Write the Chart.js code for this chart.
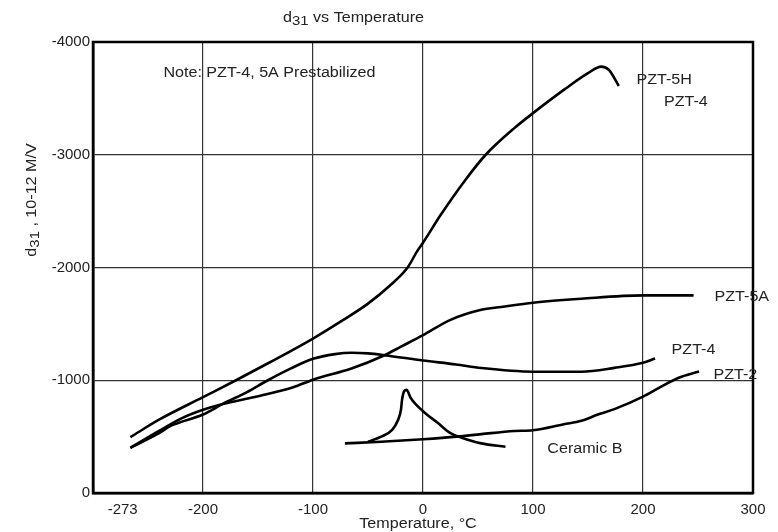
<!DOCTYPE html>
<html>
<head>
<meta charset="utf-8">
<script src="https://cdn.jsdelivr.net/npm/chart.js@4.4.1/dist/chart.umd.min.js"></script>
<style>
    html, body { margin: 0; padding: 0; background: #fff; }
</style>
</head>
<body>
<canvas id="chart" width="778" height="532"></canvas>
<script>
// tick labels
const xTicks = [-273, -200, -100, 0, 100, 200, 300];
const yTicks = [-4000, -3000, -2000, -1000, 0];

// d31 (10^-12 m/V) vs temperature (°C)
const pzt5hTemp = [-266, -240, -200, -170, -140, -100, -75, -50, -30, -14, -5, 0, 16, 38, 57, 83, 100, 128, 150, 162, 169, 178];
const pzt5hD31  = [-495, -650, -850, -1000, -1155, -1370, -1520, -1680, -1840, -2000, -2150, -2220, -2465, -2770, -3000, -3236, -3369, -3575, -3723, -3782, -3752, -3610];

const pzt5aTemp = [-266, -240, -220, -200, -182, -153, -118, -100, -65, -35, -20, 0, 25, 53, 71, 100, 144, 200, 246];
const pzt5aD31  = [-400, -550, -660, -738, -790, -852, -938, -1005, -1104, -1222, -1298, -1400, -1536, -1625, -1650, -1688, -1723, -1753, -1753];

const pzt4Temp = [-266, -240, -229, -200, -182, -160, -141, -120, -100, -80, -65, -50, -35, 0, 30, 53, 100, 144, 174, 200, 211];
const pzt4D31  = [-400, -530, -597, -696, -790, -895, -1000, -1105, -1190, -1232, -1244, -1238, -1222, -1175, -1140, -1108, -1076, -1076, -1110, -1155, -1192];

const pzt2Temp = [-71, -38, 0, 31, 53, 83, 100, 128, 144, 159, 174, 200, 215, 232, 251];
const pzt2D31  = [-440, -455, -477, -500, -522, -550, -557, -610, -640, -696, -744, -855, -935, -1020, -1077];

const ceramicBTemp = [-50, -38, -28, -23, -20, -19, -17, -15, -11, 0, 13, 25, 40, 53, 75];
const ceramicBD31  = [-455, -500, -560, -640, -740, -830, -905, -915, -840, -725, -625, -530, -475, -440, -410];

// curve labels, anchored in data units (left edge, vertical middle)
const curveLabels = [
    { text: 'Note: PZT-4, 5A Prestabilized', x: -236, y: -3726 },
    { text: 'PZT-5H', x: 194, y: -3664 },
    { text: 'PZT-4', x: 219, y: -3469 },
    { text: 'PZT-5A', x: 265, y: -1741 },
    { text: 'PZT-4', x: 226, y: -1268 },
    { text: 'PZT-2', x: 264, y: -1045 },
    { text: 'Ceramic B', x: 113, y: -386 }
];

const FONT = '"Liberation Sans", Arial, sans-serif';
const textColor = '#222';
const stretch = 1.15; // the source lettering is a little wide

function toPoints(xs, ys) {
    return xs.map((x, i) => ({ x, y: ys[i] }));
}

function curve(label, xs, ys) {
    return {
        label,
        data: toPoints(xs, ys),
        showLine: true,
        borderColor: '#000',
        borderWidth: 2.6,
        pointRadius: 0,
        cubicInterpolationMode: 'monotone',
        fill: false
    };
}

// draws text pieces (with subscripts) from the current origin
function drawPieces(ctx, pieces) {
    let x = 0;
    pieces.forEach(p => {
        ctx.font = `${p.size}px ${FONT}`;
        ctx.fillText(p.t, x, p.dy || 0);
        x += ctx.measureText(p.t).width;
    });
}

function piecesWidth(ctx, pieces) {
    let w = 0;
    pieces.forEach(p => {
        ctx.font = `${p.size}px ${FONT}`;
        w += ctx.measureText(p.t).width;
    });
    return w;
}

function wideText(ctx, pieces, x, y, align, angle) {
    ctx.save();
    ctx.translate(x, y);
    if (angle) ctx.rotate(angle);
    ctx.scale(stretch, 1);
    if (align === 'center') ctx.translate(-piecesWidth(ctx, pieces) / 2, 0);
    drawPieces(ctx, pieces);
    ctx.restore();
}

const textPlugin = {
    id: 'textPlugin',
    afterDraw(chart) {
        const { ctx, chartArea: a, scales } = chart;
        ctx.save();

        // frame
        ctx.strokeStyle = '#000';
        ctx.lineWidth = 2.5;
        ctx.strokeRect(a.left, a.top, a.right - a.left, a.bottom - a.top);

        ctx.fillStyle = textColor;
        ctx.textAlign = 'left';
        ctx.textBaseline = 'alphabetic';

        // title
        wideText(ctx, [
            { t: 'd', size: 14 },
            { t: '31', size: 13, dy: 3 },
            { t: ' vs Temperature', size: 14 }
        ], 283, 22);

        // x axis title
        wideText(ctx, [{ t: 'Temperature, °C', size: 14 }], 418, 528, 'center');

        // y axis title
        wideText(ctx, [
            { t: 'd', size: 14 },
            { t: '31', size: 13, dy: 3 },
            { t: ' , 10-12 M/V', size: 14 }
        ], 36, 200, 'center', -Math.PI / 2);

        // curve labels
        ctx.textBaseline = 'middle';
        curveLabels.forEach(l => {
            wideText(ctx, [{ t: l.text, size: 14 }],
                scales.x.getPixelForValue(l.x), scales.y.getPixelForValue(l.y));
        });

        ctx.restore();
    }
};

new Chart(document.getElementById('chart').getContext('2d'), {
    type: 'scatter',
    data: {
        datasets: [
            curve('PZT-5H', pzt5hTemp, pzt5hD31),
            curve('PZT-5A', pzt5aTemp, pzt5aD31),
            curve('PZT-4', pzt4Temp, pzt4D31),
            curve('PZT-2', pzt2Temp, pzt2D31),
            curve('Ceramic B', ceramicBTemp, ceramicBD31)
        ]
    },
    options: {
        responsive: false,
        animation: false,
        layout: { padding: { top: 42, right: 25, left: 0, bottom: 0 } },
        plugins: {
            legend: { display: false },
            tooltip: { enabled: false },
            title: { display: false }
        },
        scales: {
            x: {
                type: 'linear',
                min: -300,
                max: 300,
                afterBuildTicks: s => { s.ticks = xTicks.map(v => ({ value: v })); },
                afterFit: s => { s.height = 39; },
                ticks: {
                    color: textColor,
                    font: { family: FONT, size: 15 },
                    padding: 8,
                    maxRotation: 0,
                    autoSkip: false,
                    callback: v => String(v)
                },
                grid: {
                    color: c => (c.tick && c.tick.value === -273) ? 'rgba(0,0,0,0)' : '#333',
                    lineWidth: 1.2,
                    drawTicks: false
                },
                border: { display: true, color: '#000', width: 2.5 }
            },
            y: {
                type: 'linear',
                min: -4000,
                max: 0,
                reverse: true,
                afterBuildTicks: s => { s.ticks = yTicks.map(v => ({ value: v })); },
                afterFit: s => { s.width = 93; },
                ticks: {
                    color: textColor,
                    font: { family: FONT, size: 15 },
                    padding: 3,
                    autoSkip: false,
                    callback: v => String(v)
                },
                grid: {
                    color: '#333',
                    lineWidth: 1.2,
                    drawTicks: false
                },
                border: { display: true, color: '#000', width: 2.5 }
            }
        }
    },
    plugins: [textPlugin]
});
</script>
</body>
</html>
